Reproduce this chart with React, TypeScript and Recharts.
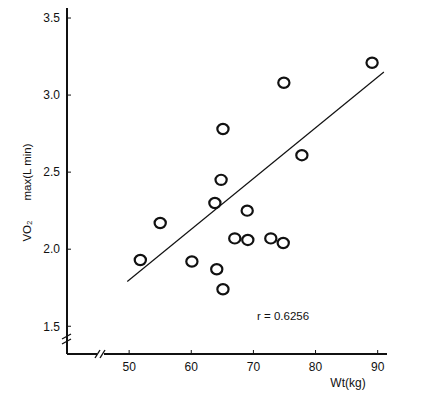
import React from "react";
import {
  ScatterChart,
  Scatter,
  XAxis,
  YAxis,
  ReferenceLine,
  Label,
} from "recharts";

// body weight (kg) vs VO2 max (L/min)
const weights = [89.1, 74.9, 65.1, 77.8, 64.8, 63.8, 69.0, 55.0, 67.0, 69.1, 72.8, 74.8, 51.8, 60.1, 64.1, 65.1];
const vo2max = [3.21, 3.08, 2.78, 2.61, 2.45, 2.3, 2.25, 2.17, 2.07, 2.06, 2.07, 2.04, 1.93, 1.92, 1.87, 1.74];

// regression line end points
const fitX = [49.7, 91.0];
const fitY = [1.79, 3.15];

const xTicks = [50, 60, 70, 80, 90];
const yTicks = [1.5, 2.0, 2.5, 3.0, 3.5];

const yAxisLabel = ["VO₂", "max(L min)"];
const xAxisLabel = "Wt(kg)";
const corrLabel = "r = 0.6256";

const points = weights.map((w, i) => ({ x: w, y: vo2max[i] }));

const FONT = "'Liberation Sans', Arial, sans-serif";
const INK = "#111";

function Ring(props: any) {
  const { cx, cy } = props;
  if (cx == null || cy == null) return null;
  return <ellipse cx={cx} cy={cy} rx={5.6} ry={5.1} fill="#fff" stroke={INK} strokeWidth={2.2} />;
}

// titles, r value and the axis-break marks
function Annotations() {
  return (
    <g fontFamily={FONT} fill={INK}>
      <text x={31} y={231} fontSize={11.5} textAnchor="middle" transform="rotate(-90, 31, 231)">
        {yAxisLabel[0]}
      </text>
      <text x={31} y={172} fontSize={11.5} textAnchor="middle" transform="rotate(-90, 31, 172)">
        {yAxisLabel[1]}
      </text>
      <text x={348} y={387} fontSize={12} textAnchor="middle">
        {xAxisLabel}
      </text>
      <text x={257} y={320} fontSize={11.5}>
        {corrLabel}
      </text>
      <g stroke={INK} strokeWidth={1.4}>
        <rect x={63} y={337} width={8} height={6} fill="#fff" stroke="none" />
        <line x1={62} y1={339} x2={71} y2={334} />
        <line x1={62} y1={344} x2={71} y2={339} />
        <rect x={97} y={350} width={7} height={8} fill="#fff" stroke="none" />
        <line x1={95} y1={358} x2={100} y2={350} />
        <line x1={100} y1={358} x2={105} y2={350} />
      </g>
    </g>
  );
}

export default function App() {
  return (
    <div style={{ position: "absolute", left: 0, top: 0, background: "#fff" }}>
      <ScatterChart width={442} height={395} margin={{ top: 8, right: 55, bottom: 11, left: 27 }}>
        <XAxis
          type="number"
          dataKey="x"
          domain={[40, 91.5]}
          ticks={xTicks}
          allowDataOverflow
          height={30}
          tickSize={4}
          tickMargin={4}
          axisLine={{ stroke: INK, strokeWidth: 2 }}
          tickLine={{ stroke: INK, strokeWidth: 1, transform: "translate(0,-4)" }}
          tick={{ fontSize: 12, fill: INK, fontFamily: FONT }}
        >
          <Label content={() => <Annotations />} />
        </XAxis>
        <YAxis
          type="number"
          dataKey="y"
          domain={[1.32, 3.565]}
          ticks={yTicks}
          allowDataOverflow
          width={40}
          tickSize={4}
          tickMargin={3}
          tickFormatter={(v: number) => v.toFixed(1)}
          axisLine={{ stroke: INK, strokeWidth: 2 }}
          tickLine={{ stroke: INK, strokeWidth: 1, transform: "translate(4,0)" }}
          tick={{ fontSize: 12, fill: INK, fontFamily: FONT }}
        />
        <ReferenceLine
          segment={[
            { x: fitX[0], y: fitY[0] },
            { x: fitX[1], y: fitY[1] },
          ]}
          stroke={INK}
          strokeWidth={1.2}
          ifOverflow="visible"
        />
        <Scatter data={points} shape={<Ring />} isAnimationActive={false} />
      </ScatterChart>
    </div>
  );
}
